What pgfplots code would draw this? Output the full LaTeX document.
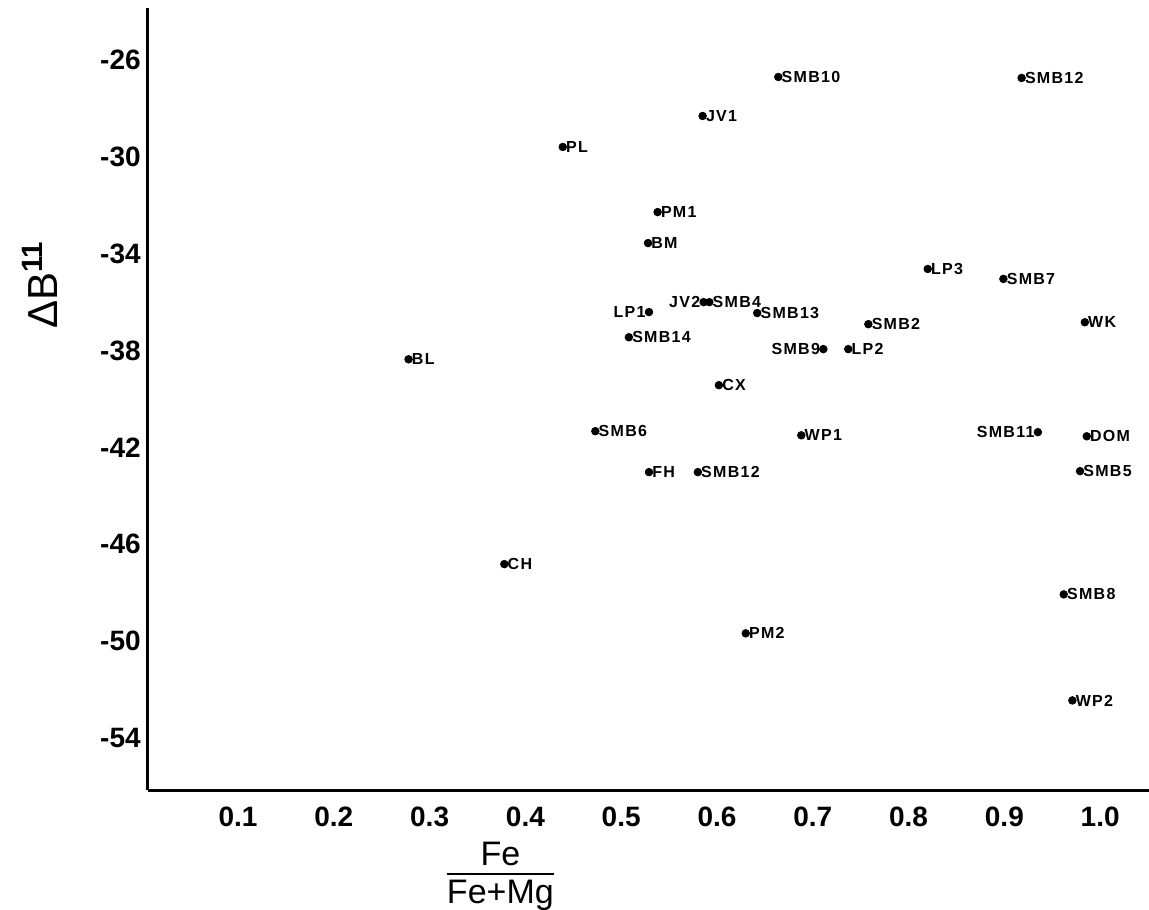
\documentclass[border=0pt]{standalone}
\usepackage{fontspec}
\setmainfont{Liberation Sans}
\usepackage{pgfplots}
\usepackage{pgfplotstable}
\pgfplotsset{compat=1.18}

% points with the name to the right of the dot
\pgfplotstableread{
x y name
0.664 -26.70 SMB10
0.918 -26.74 SMB12
0.585 -28.31 JV1
0.439 -29.59 PL
0.538 -32.28 PM1
0.528 -33.56 BM
0.820 -34.63 LP3
0.899 -35.04 SMB7
0.592 -36.00 SMB4
0.642 -36.45 SMB13
0.758 -36.91 SMB2
0.984 -36.83 WK
0.508 -37.45 SMB14
0.737 -37.94 LP2
0.278 -38.36 BL
0.602 -39.43 CX
0.473 -41.33 SMB6
0.688 -41.50 WP1
0.986 -41.54 DOM
0.529 -43.02 FH
0.580 -43.02 SMB12
0.979 -42.98 SMB5
0.378 -46.82 CH
0.962 -48.07 SMB8
0.630 -49.68 PM2
0.971 -52.45 WP2
}\rightpts

% points with the name to the left of the dot
\pgfplotstableread{
x y name
0.586 -36.00 JV2
0.529 -36.41 LP1
0.711 -37.94 SMB9
0.935 -41.37 SMB11
}\leftpts

\begin{document}
\begin{tikzpicture}
\begin{axis}[
    scale only axis,
    width=500.5pt, height=391pt,
    xmin=0.006, xmax=1.051,
    ymin=-56.15, ymax=-23.85,
    axis x line=bottom, axis y line=left,
    axis line style={-, line width=1.5pt},
    tick style={draw=none},
    xtick={0.1,0.2,0.3,0.4,0.5,0.6,0.7,0.8,0.9,1.0},
    xticklabels={0.1,0.2,0.3,0.4,0.5,0.6,0.7,0.8,0.9,1.0},
    ytick={-54,-50,-46,-42,-38,-34,-30,-26},
    yticklabels={-54,-50,-46,-42,-38,-34,-30,-26},
    ticklabel style={font=\fontsize{14}{16}\selectfont\bfseries},
    xticklabel style={yshift=-3pt},
    yticklabel style={xshift=2pt},
    xlabel={\fontsize{17}{19}\selectfont\setlength{\arrayrulewidth}{1pt}\begin{tabular}{@{}c@{}}Fe\\[-2pt]\hline\rule{0pt}{14pt}Fe+Mg\end{tabular}},
    xlabel style={at={(axis description cs:0.352,0)}, anchor=north, yshift=-21pt},
    ylabel={\fontsize{21}{24}\selectfont ΔB\textsuperscript{\bfseries 11}},
    ylabel style={at={(axis description cs:-0.108,0.646)}, anchor=center},
    clip=false,
    nodes near coords,
    point meta=explicit symbolic,
    every node near coord/.append style={font=\fontsize{8}{9}\selectfont\bfseries\addfontfeature{LetterSpace=8}, inner sep=1.5pt},
  ]
  \addplot[only marks, mark=*, mark size=1.9pt, black,
           nodes near coords align={anchor=west}]
    table[x=x, y=y, meta=name] {\rightpts};
  \addplot[only marks, mark=*, mark size=1.9pt, black,
           nodes near coords align={anchor=east}]
    table[x=x, y=y, meta=name] {\leftpts};
  \coordinate (sw) at (rel axis cs:0,0);
  \coordinate (ne) at (rel axis cs:1,1);
\end{axis}
\pgfresetboundingbox
\path[use as bounding box] ([xshift=-74pt, yshift=-59.5pt]sw) rectangle ([yshift=4pt]ne);
\end{tikzpicture}
\end{document}
